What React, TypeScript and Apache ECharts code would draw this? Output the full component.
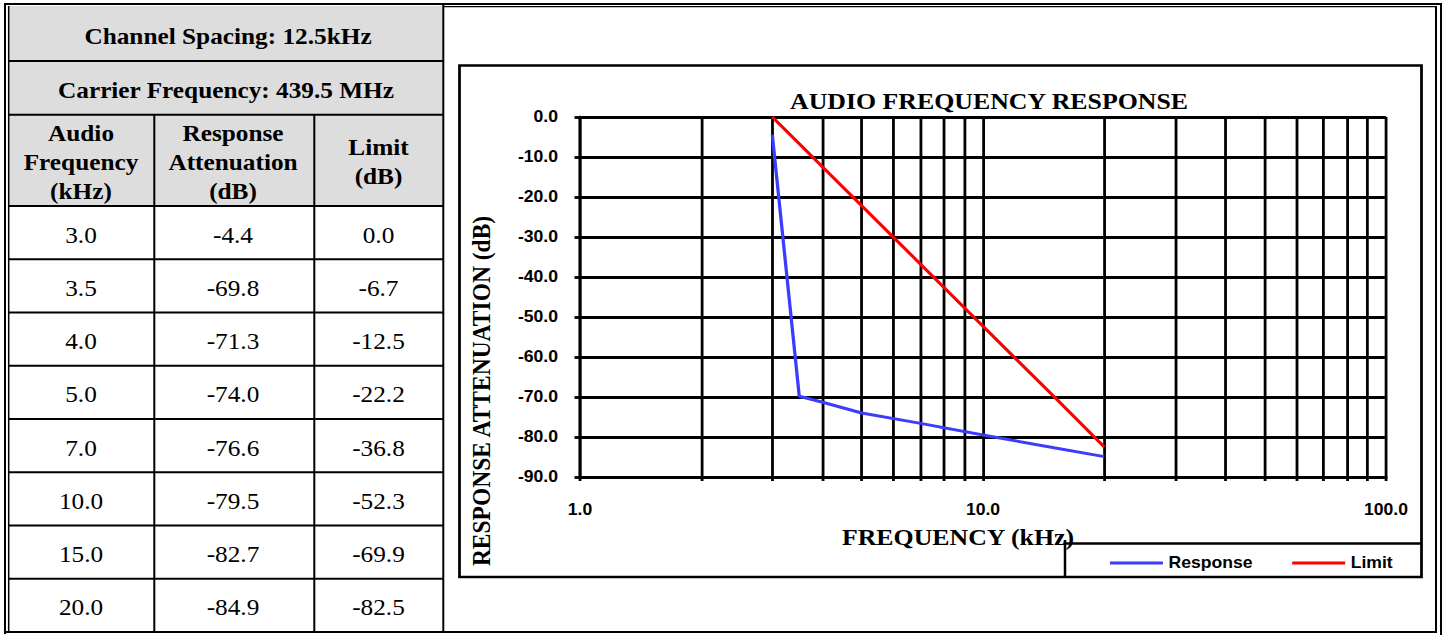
import React, { useEffect, useRef } from "react";
import * as echarts from "echarts";

// ---------- data ----------
const frequencies = [3.0, 3.5, 4.0, 5.0, 7.0, 10.0, 15.0, 20.0];
const responseDb = [-4.4, -69.8, -71.3, -74.0, -76.6, -79.5, -82.7, -84.9];
const limitDb = [0.0, -6.7, -12.5, -22.2, -36.8, -52.3, -69.9, -82.5];
const seriesNames = ["Response", "Limit"];
const xLabelValues = [1, 10, 100];
const xTickValues = [1, 2, 3, 4, 5, 6, 7, 8, 9, 10, 20, 30, 40, 50, 60, 70, 80, 90, 100];
const channelSpacing = "Channel Spacing: 12.5kHz";
const carrierFrequency = "Carrier Frequency: 439.5 MHz";
const columnHeaders = [
  ["Audio", "Frequency", "(kHz)"],
  ["Response", "Attenuation", "(dB)"],
  ["Limit", "(dB)"],
];
const chartTitle = "AUDIO FREQUENCY RESPONSE";
const xAxisTitle = "FREQUENCY (kHz)";
const yAxisTitle = "RESPONSE ATTENUATION (dB)";

// ---------- layout ----------
const PAGE_W = 1446;
const PAGE_H = 635;
const INNER_W = 1315;
const S = PAGE_W / INNER_W; // horizontal stretch of the original picture
const X = (v: number) => v / S;

const SERIF = '"Liberation Serif", "Times New Roman", serif';
const SANS = '"Liberation Sans", Arial, sans-serif';
const BLUE = "#3c3cff";
const RED = "#ff0000";
const GRID_W = 2.8;

function hLine(x1: number, x2: number, y: number, w = 2) {
  return {
    type: "line",
    silent: true,
    z: 10,
    shape: { x1: X(x1), y1: y, x2: X(x2), y2: y },
    style: { stroke: "#000", lineWidth: w },
  };
}
function vLine(x: number, y1: number, y2: number, w = 2) {
  return {
    type: "line",
    silent: true,
    z: 10,
    shape: { x1: X(x), y1, x2: X(x), y2 },
    style: { stroke: "#000", lineWidth: w / S },
  };
}
function txt(s: string, x: number, y: number, font: string, rotation = 0) {
  return {
    type: "text",
    silent: true,
    z: 20,
    x: X(x),
    y,
    rotation,
    style: {
      text: s,
      fill: "#000",
      font,
      align: "center",
      verticalAlign: "middle",
      textAlign: "center",
      textVerticalAlign: "middle",
    },
  };
}

function buildGraphics() {
  const els: any[] = [];
  // header fill
  els.push({
    type: "rect",
    silent: true,
    z: 1,
    shape: { x: X(9), y: 6, width: X(442.5) - X(9), height: 200 },
    style: { fill: "#dddddd" },
  });
  // outer borders
  els.push(hLine(4, 1442, 4, 2));
  els.push(vLine(5, 3, 634, 2));
  els.push(vLine(1441, 3, 635, 2));
  els.push(hLine(4, 1437, 632, 2));
  // inner borders
  els.push(vLine(8.7, 6, 632, 1.5));
  els.push(hLine(443, 1437, 6.7, 1.3));
  els.push(vLine(1436, 6, 633, 2));
  // table column separators
  const colEdges = [8.7, 154.3, 314.3, 443.3];
  els.push(vLine(colEdges[1], 114.7, 632, 2));
  els.push(vLine(colEdges[2], 114.7, 632, 2));
  els.push(vLine(colEdges[3], 4, 632, 2));
  // table rows
  const headerRows = [61, 114.7, 206];
  headerRows.forEach((y) => els.push(hLine(8.7, 443.3, y, 2)));
  const dataTop = 206;
  const rowH = (632 - 206) / frequencies.length;
  for (let i = 1; i < frequencies.length; i++) {
    els.push(hLine(8.7, 443.3, dataTop + i * rowH, 2));
  }
  // header texts
  const hdFont = `bold 23px ${SERIF}`;
  els.push(txt(channelSpacing, 228, 36, hdFont));
  els.push(txt(carrierFrequency, 226, 90, hdFont));
  const colCenters = [81, 233, 378.5];
  const lh = 29;
  const hdCenter = 161.5;
  columnHeaders.forEach((lines, c) => {
    const n = lines.length;
    lines.forEach((line, k) => {
      els.push(txt(line, colCenters[c], hdCenter + (k - (n - 1) / 2) * lh, hdFont));
    });
  });
  // data texts
  const dFont = `23px ${SERIF}`;
  frequencies.forEach((f, i) => {
    const cy = dataTop + (i + 0.5) * rowH + 2;
    els.push(txt(f.toFixed(1), colCenters[0], cy, dFont));
    els.push(txt(responseDb[i].toFixed(1), colCenters[1], cy, dFont));
    els.push(txt(limitDb[i].toFixed(1), colCenters[2], cy, dFont));
  });
  // chart area frame
  els.push({
    type: "rect",
    silent: true,
    z: 10,
    shape: { x: X(459.5), y: 65.5, width: X(1421.5) - X(459.5), height: 577 - 65.5 },
    style: { fill: "none", stroke: "#000", lineWidth: 2.5 },
  });
  // legend box
  els.push(hLine(1065, 1421, 543.5, 2.5));
  els.push(vLine(1065, 540, 577, 2.5));
  // titles
  const tFont = `bold 23.5px ${SERIF}`;
  els.push(txt(chartTitle, 989, 101, tFont));
  els.push(txt(xAxisTitle, 958, 537, tFont));
  els.push(txt(yAxisTitle, 481, 391, tFont, Math.PI / 2));
  return els;
}

export default function App() {
  const ref = useRef<HTMLDivElement>(null);
  useEffect(() => {
    if (!ref.current) return;
    const chart = echarts.init(ref.current, undefined, { renderer: "svg" });
    const labelStyle = {
      color: "#000",
      fontWeight: "bold",
      fontSize: 16,
      fontFamily: SANS,
    };
    const option: any = {
      animation: false,
      backgroundColor: "#ffffff",
      textStyle: { fontFamily: SANS },
      grid: {
        left: X(580),
        right: INNER_W - X(1386),
        top: 117,
        bottom: PAGE_H - 477,
        containLabel: false,
        outerBoundsMode: "none",
      },
      xAxis: {
        type: "log",
        logBase: 10,
        min: 1,
        max: 100,
        axisLine: { show: true, onZero: false, lineStyle: { color: "#000", width: GRID_W } },
        axisTick: {
          show: true,
          customValues: xTickValues,
          length: 4,
          lineStyle: { color: "#000", width: GRID_W / S },
        },
        axisLabel: {
          ...labelStyle,
          customValues: xLabelValues,
          margin: 25,
          formatter: (v: number) => Number(v).toFixed(1),
        },
        splitLine: { show: true, lineStyle: { color: "#000", width: GRID_W / S } },
        minorTick: { show: false },
        minorSplitLine: { show: false },
      },
      yAxis: {
        type: "value",
        min: -90,
        max: 0,
        interval: 10,
        axisLine: { show: true, onZero: false, lineStyle: { color: "#000", width: GRID_W / S } },
        axisTick: { show: true, length: 5, lineStyle: { color: "#000", width: GRID_W } },
        axisLabel: {
          ...labelStyle,
          margin: 20,
          formatter: (v: number) => Number(v).toFixed(1),
        },
        splitLine: { show: true, lineStyle: { color: "#000", width: GRID_W } },
      },
      legend: {
        show: true,
        data: seriesNames.map((n) => ({ name: n, icon: "rect" })),
        left: X(1110),
        top: 555,
        padding: 0,
        itemWidth: X(53),
        itemHeight: 3,
        itemGap: 36,
        textStyle: { ...labelStyle, padding: [0, 0, 0, 0] },
      },
      series: [
        {
          name: seriesNames[0],
          type: "line",
          data: frequencies.map((f, i) => [f, responseDb[i]]),
          symbol: "none",
          lineStyle: { color: BLUE, width: 3 },
          itemStyle: { color: BLUE },
          z: 5,
        },
        {
          name: seriesNames[1],
          type: "line",
          data: frequencies.map((f, i) => [f, limitDb[i]]),
          symbol: "none",
          lineStyle: { color: RED, width: 3 },
          itemStyle: { color: RED },
          z: 6,
        },
      ],
      graphic: { elements: buildGraphics() },
    };
    chart.setOption(option);
    return () => chart.dispose();
  }, []);
  return (
    <div
      ref={ref}
      style={{
        position: "fixed",
        left: 0,
        top: 0,
        width: INNER_W,
        height: PAGE_H,
        transform: `scaleX(${S})`,
        transformOrigin: "0 0",
        background: "#fff",
      }}
    />
  );
}
